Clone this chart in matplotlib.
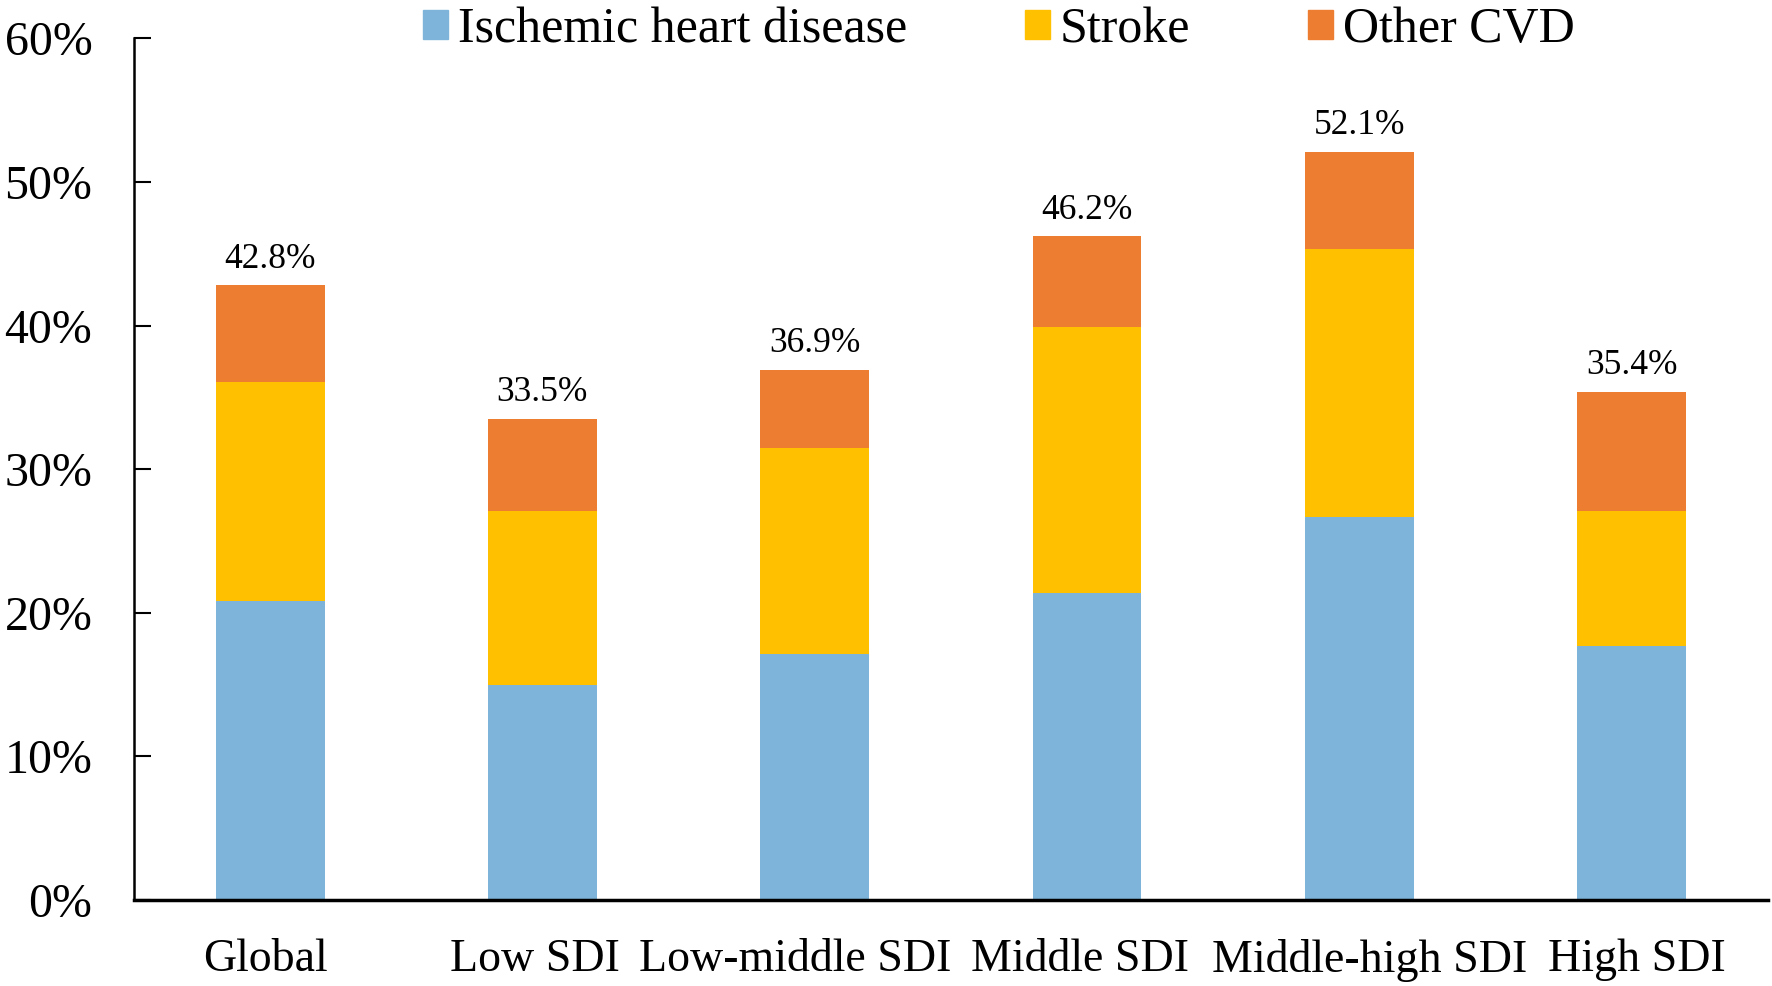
import matplotlib.pyplot as plt
import matplotlib.transforms as mtransforms
from matplotlib.patches import Patch
import numpy as np

regions = ["Global", "Low SDI", "Low-middle SDI", "Middle SDI", "Middle-high SDI", "High SDI"]
ihd = [20.8, 15.0, 17.1, 21.4, 26.7, 17.7]
stroke = [15.3, 12.1, 14.4, 18.5, 18.6, 9.4]
other = [6.7, 6.4, 5.4, 6.3, 6.8, 8.3]
totals = [42.8, 33.5, 36.9, 46.2, 52.1, 35.4]
series_names = ["Ischemic heart disease", "Stroke", "Other CVD"]
colors = ["#7EB4D9", "#FFC000", "#ED7D31"]

plt.rcParams['font.family'] = ['Liberation Serif', 'DejaVu Serif']

fig = plt.figure(figsize=(17.72, 9.86), dpi=100)
ax = fig.add_axes([0.0756, 0.0872, 0.922, 0.874])

x = np.arange(len(regions))
w = 0.40
ax.bar(x, ihd, w, color=colors[0])
ax.bar(x, stroke, w, bottom=ihd, color=colors[1])
ax.bar(x, other, w, bottom=np.add(ihd, stroke), color=colors[2])

for xi, t in zip(x, totals):
    ax.annotate(f"{t}%", (xi, t), xytext=(0, 7), textcoords="offset points",
                ha="center", va="bottom", fontsize=25.5)

ax.set_xlim(-0.5, len(regions) - 0.5)
ax.set_ylim(0, 60)
ax.set_yticks(range(0, 61, 10))
ax.set_yticklabels([f"{v}%" for v in range(0, 61, 10)], fontsize=34.5)
ax.set_xticks(x)
ax.set_xticklabels(regions, fontsize=33)
ax.tick_params(axis='y', direction='in', length=12, width=1.5, pad=30)
ax.tick_params(axis='x', length=0, pad=28)
ax.spines['top'].set_visible(False)
ax.spines['right'].set_visible(False)
ax.spines['left'].set_linewidth(1.8)
ax.spines['bottom'].set_linewidth(2.5)

# category labels sit slightly off-centre in the original
shifts = [-5, -7, -20, -7, 10, 5]
for lab, dx in zip(ax.get_xticklabels(), shifts):
    off = mtransforms.ScaledTranslation(dx / 100, 0, fig.dpi_scale_trans)
    lab.set_transform(lab.get_transform() + off)

handles = [Patch(color=c) for c in colors]
fig.legend(handles, series_names, loc="upper left", bbox_to_anchor=(0.2387, 0.993),
           ncol=3, frameon=False, fontsize=36, handlelength=0.5, handleheight=0.5,
           handletextpad=0.2, columnspacing=2.35, borderpad=0, borderaxespad=0)

fig.savefig("out.png", dpi=100)
